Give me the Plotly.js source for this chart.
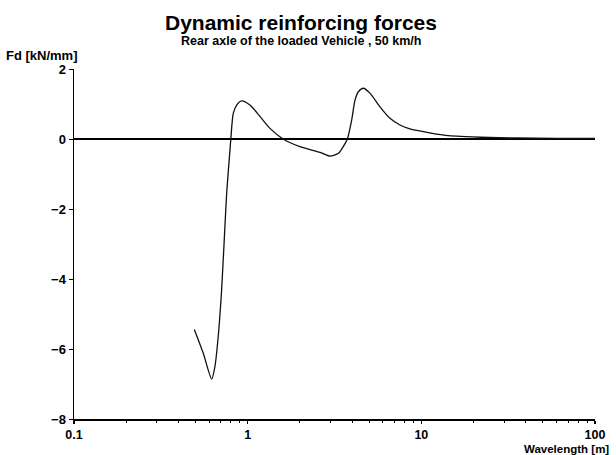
<!DOCTYPE html>
<html>
<head>
<meta charset="utf-8">
<script src="https://cdn.plot.ly/plotly-3.0.1.min.js"></script>
<style>html,body{margin:0;padding:0;background:#fff;}#chart{width:616px;height:455px;}</style>
</head>
<body>
<div id="chart"></div>
<script>
// Wavelength [m]
const wavelength = [0.493, 0.555, 0.621, 0.648, 0.678, 0.702, 0.708, 0.733, 0.757, 0.791, 0.80, 0.826, 0.865, 0.923, 1.03, 1.18, 1.34, 1.60, 2.0, 2.61, 2.98, 3.33, 3.55, 3.75, 3.97, 4.15, 4.34, 4.64, 5.06, 5.78, 6.6, 7.53, 8.6, 10.3, 12.2, 16, 22, 35, 60, 100];
// Fd [kN/mm]
const force = [-5.44, -6.12, -6.86, -6.5, -5.6, -4.6, -4.31, -2.89, -1.55, -0.31, 0, 0.73, 0.97, 1.09, 0.97, 0.64, 0.31, 0, -0.22, -0.38, -0.49, -0.41, -0.22, 0, 0.54, 1.11, 1.35, 1.45, 1.31, 0.92, 0.59, 0.40, 0.29, 0.21, 0.14, 0.08, 0.05, 0.03, 0.02, 0.015];

const yTicks = [2, 0, -2, -4, -6, -8];
const xTicks = [0.1, 1, 10, 100];
const xTickText = ['0.1', '1', '10', '100'];
const xMinorTicks = [0.2, 0.3, 0.4, 0.5, 0.6, 0.7, 0.8, 0.9, 2, 3, 4, 5, 6, 7, 8, 9, 20, 30, 40, 50, 60, 70, 80, 90];

const titleText = 'Dynamic reinforcing forces';
const subtitleText = 'Rear axle of the loaded Vehicle , 50 km/h';
const yTitle = 'Fd [kN/mm]';
const xTitle = 'Wavelength [m]';

const font = 'Liberation Sans, Arial, sans-serif';

const trace = {
  x: wavelength, y: force, type: 'scatter', mode: 'lines',
  line: {color: '#111', width: 1.3, shape: 'spline', smoothing: 0.7},
  hoverinfo: 'skip'
};
// empty trace to activate the minor-tick axis
const minorAxisTrace = {x: [], y: [], xaxis: 'x2', yaxis: 'y', type: 'scatter', mode: 'lines', hoverinfo: 'skip', showlegend: false};

const layout = {
  width: 616, height: 455,
  margin: {l: 74, r: 21, t: 69, b: 36},
  paper_bgcolor: '#fff', plot_bgcolor: '#fff',
  showlegend: false,
  font: {family: font, color: '#000', size: 11, weight: 'bold'},
  xaxis: {
    type: 'log', range: [-1, 2],
    tickvals: xTicks, ticktext: xTickText,
    ticks: 'outside', ticklen: 3, tickcolor: '#000', tickwidth: 1.2,
    showgrid: false, zeroline: false,
    showline: true, linecolor: '#000', linewidth: 1.5,
    tickfont: {family: font, size: 12.5, color: '#000', weight: 'bold'}
  },
  xaxis2: {
    type: 'log', range: [-1, 2], overlaying: 'x', side: 'bottom', matches: 'x',
    tickvals: xMinorTicks, showticklabels: false,
    ticks: 'outside', ticklen: 3, tickcolor: '#000', tickwidth: 1,
    showgrid: false, zeroline: false, showline: false
  },
  yaxis: {
    range: [-8, 2],
    tickvals: yTicks,
    ticks: 'outside', ticklen: 4, tickcolor: '#000', tickwidth: 1,
    showgrid: false,
    zeroline: true, zerolinecolor: '#000', zerolinewidth: 1.2,
    showline: true, linecolor: '#000', linewidth: 1.5,
    tickfont: {family: font, size: 13, color: '#000', weight: 'bold'}
  },
  annotations: [
    {text: titleText, xref: 'paper', yref: 'paper', x: 0.435, y: 1.095, xanchor: 'center', yanchor: 'bottom', showarrow: false,
     font: {family: font, size: 21, color: '#000', weight: 'bold'}},
    {text: subtitleText, xref: 'paper', yref: 'paper', x: 0.435, y: 1.055, xanchor: 'center', yanchor: 'bottom', showarrow: false,
     font: {family: font, size: 12.5, color: '#000', weight: 'bold'}},
    {text: yTitle, xref: 'paper', yref: 'paper', x: -0.135, y: 1.012, xanchor: 'left', yanchor: 'bottom', showarrow: false,
     font: {family: font, size: 13, color: '#000', weight: 'bold'}},
    {text: xTitle, xref: 'paper', yref: 'paper', x: 1.03, y: -0.063, xanchor: 'right', yanchor: 'top', showarrow: false,
     font: {family: font, size: 11.5, color: '#000', weight: 'bold'}}
  ]
};

Plotly.newPlot('chart', [trace, minorAxisTrace], layout, {staticPlot: true, displayModeBar: false});
</script>
</body>
</html>
